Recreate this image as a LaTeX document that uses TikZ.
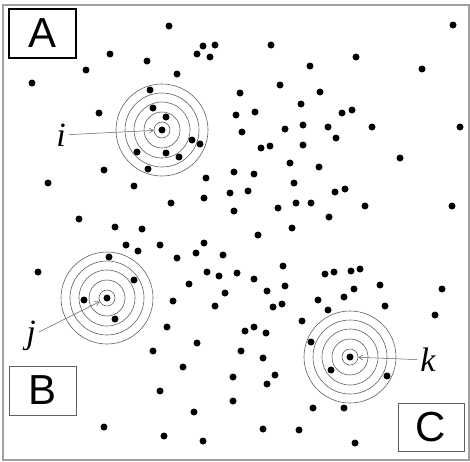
\documentclass[tikz,border=0pt]{standalone}
\usepackage{fontspec}
\usepackage{tikz}
\usetikzlibrary{arrows.meta}
\newfontfamily\boxfont{Liberation Sans}
\newfontfamily\labfont{Liberation Serif}
\definecolor{ringgray}{RGB}{95, 95, 95}
\definecolor{framegray}{RGB}{160, 160, 160}

\begin{document}
\begin{tikzpicture}[x=1pt, y=-1pt,
   sample/.style={circle, fill=black, draw=none, inner sep=0, minimum size=7},
   ring/.style={circle, draw=ringgray, line width=0.6, inner sep=0},
   region/.style={rectangle, draw=ringgray, line width=0.8, inner sep=0,
                  minimum width=67, minimum height=49,
                  font=\boxfont\fontsize{42}{42}\selectfont},
   tag/.style={inner sep=3, font=\labfont\itshape\fontsize{34}{34}\selectfont},
   pointer/.style={-{Straight Barb[length=4, width=5]}, draw=ringgray, line width=0.5}
  ]

  \useasboundingbox (0, 0) rectangle (470, 461);
  \draw[framegray, line width=1.2] (3, 5) rectangle (469, 460);

  % region boxes
  \node (A) at (42.5, 33.5) [region, draw=black, line width=1.2] {A};
  \node (B) at (42.5, 390.5) [region] {B};
  \node (C) at (431, 427) [region, minimum width=66, minimum height=48] {C};

  % scattered samples
  \foreach \X/\Y [count=\n] in {
      169/26, 203/46, 215/45, 197/54, 210/57, 110/54, 147/61, 86/70, 177/74,
      32/83, 150/90, 153/108, 99/113, 166/117, 192/140, 200/144, 137/152,
      166/153, 179/157, 148/169, 104/170, 206/178, 234/172, 48/183, 134/186,
      230/193, 204/198, 171/203, 234/211, 79/219, 115/227, 142/229, 236/115,
      453/25, 271/45, 356/57, 310/66, 422/69, 280/85, 240/93, 320/92, 301/104,
      255/112, 342/113, 352/110, 242/132, 285/129, 303/125, 328/127, 372/127,
      460/127, 336/138, 261/148, 270/146, 303/145, 400/158, 290/163, 319/167,
      254/174, 294/183, 248/191, 335/192, 345/189, 296/203, 311/203, 365/206,
      452/206, 278/208, 329/217, 292/228,
      126/245, 138/251, 160/245, 204/243, 109/257, 177/258, 196/253, 223/255,
      38/272, 207/272, 219/276, 134/280, 189/284, 225/293, 84/300, 173/301,
      215/306, 115/319, 167/327, 197/343, 153/351, 183/367, 233/377, 160/391,
      233/401, 194/412, 104/427, 164/436, 203/441,
      258/235, 283/266, 237/273, 254/279, 267/291, 285/286, 325/274, 334/272,
      351/271, 360/269, 354/289, 380/285, 442/289, 318/300, 344/297, 273/307,
      282/304, 328/310, 385/306, 435/315, 302/321, 245/331, 254/327, 266/333,
      311/342, 241/351, 263/358, 275/375, 267/384, 331/370, 387/376, 313/408,
      344/408, 263/429, 299/430, 355/443} {
    \node (s\n) at (\X, \Y) [sample] {};
  }

  % the three marked samples and their rings
  \node (ci) at (162, 130) [sample] {};
  \node (cj) at (107, 298) [sample] {};
  \node (ck) at (350, 357) [sample] {};

  \foreach \C in {i, j, k} {
    \foreach \r [count=\m] in {8, 18, 28, 37, 46} {
      \node (ring\C\m) at (c\C) [ring, minimum size=2*\r] {};
    }
  }

  \node (li) at (61, 135) [tag] {i};
  \node (lj) at (31, 336) [tag] {j};
  \node (lk) at (428, 360) [tag] {k};

  \foreach \B/\E in {li/ringi1, lj/ringj1, lk/ringk1} {
    \draw[pointer] (\B) -- (\E);
  }

\end{tikzpicture}
\end{document}
